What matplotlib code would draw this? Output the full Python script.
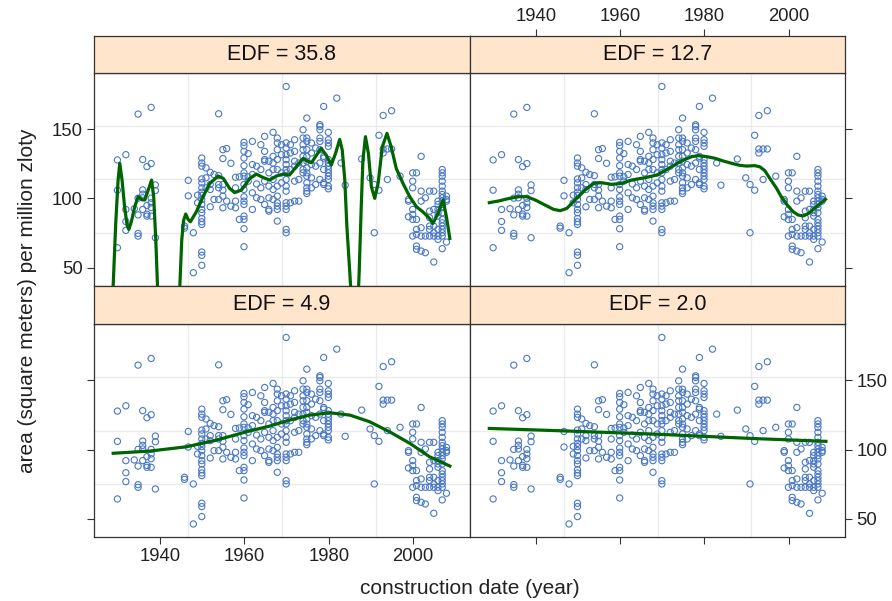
import numpy as np
import matplotlib
matplotlib.use("Agg")
import matplotlib.pyplot as plt

plt.rcParams['font.family'] = ['Liberation Sans', 'DejaVu Sans']

# scatter data: construction year and the areas observed in that year
year_cols = [1929.9, 1931.9, 1933.9, 1934.8, 1935.9, 1936.9, 1937.9, 1938.9,
             1945.8, 1946.7, 1947.9, 1948.9, 1949.9, 1950.9, 1951.9, 1952.8,
             1953.9, 1954.9, 1955.8, 1956.8, 1957.9, 1958.8, 1959.9, 1960.9,
             1961.9, 1962.9, 1963.9, 1964.8, 1965.8, 1966.8, 1967.8, 1968.8,
             1969.9, 1970.9, 1971.9, 1972.9, 1973.9, 1974.8, 1975.9, 1976.9,
             1977.9, 1978.8, 1979.9, 1981.9, 1982.9, 1983.9, 1987.8, 1989.8,
             1990.8, 1991.9, 1992.9, 1993.9, 1994.9, 1996.9, 1998.9, 1999.9,
             2000.8, 2001.9, 2002.9, 2003.9, 2004.9, 2005.9, 2006.9, 2007.9]
area_cols = [
    [127.7, 105.9, 64.4],
    [131.5, 92.0, 83.3, 76.9],
    [92.5],
    [160.8, 100.1, 88.1, 74.7, 72.8],
    [128.0, 106.1, 103.0, 100.4, 92.0],
    [122.9, 94.9, 88.6, 87.2],
    [165.6, 125.1, 100.1, 96.8, 93.4, 87.2],
    [109.7, 105.6, 71.6],
    [80.0, 78.5],
    [113.0, 101.8],
    [75.2, 46.4],
    [102.3, 96.8],
    [129.1, 125.5, 123.2, 114.0, 111.2, 107.6, 104.4, 102.1, 99.2, 95.6, 92.0,
     89.6, 85.5, 83.1, 81.2, 61.3, 58.9, 51.7],
    [122.0, 114.8, 107.6],
    [118.8, 110.0, 106.4, 93.9],
    [117.2, 99.2],
    [161.0, 116.4, 110.0, 107.6, 99.2],
    [135.1, 128.7, 110.0, 105.9, 101.6, 93.2],
    [135.9, 98.0],
    [125.3, 94.4],
    [115.2, 107.6, 98.0, 93.2],
    [115.5, 84.8],
    [140.4, 138.0, 133.9, 129.1, 123.6, 118.4, 116.0, 110.0, 106.4, 101.1, 98.0,
     95.6, 87.2, 84.8, 78.1, 65.1],
    [132.3, 115.5, 112.4],
    [141.1, 124.4, 117.2, 104.0, 92.0],
    [123.2, 110.4, 100.4],
    [138.7, 120.8, 107.6, 99.2],
    [144.7, 133.9, 128.0, 126.8, 112.4, 95.6],
    [126.8, 118.4, 108.8, 100.4, 92.0, 90.8],
    [147.6, 130.3, 125.5, 120.8, 113.6, 106.4, 99.2],
    [143.5, 140.0, 135.1, 128.0, 120.8, 108.8, 101.6, 96.8, 94.4, 92.0, 83.6],
    [138.7, 131.5, 118.4, 111.2],
    [180.7, 140.0, 136.3, 131.5, 127.9, 124.4, 120.8, 118.4, 113.6, 108.8, 105.2,
     96.8, 94.4, 92.0, 77.6, 75.2],
    [138.7, 132.7, 120.8, 96.8],
    [142.3, 133.9, 126.8, 123.2, 112.4, 98.0],
    [125.5, 113.6, 98.0],
    [149.5, 143.5, 138.7, 135.1, 130.3, 125.5, 120.8, 118.4],
    [157.9, 143.5, 141.1, 135.1, 130.3, 126.8, 121.9, 118.4, 116.0, 111.2, 107.6,
     105.2, 103.5],
    [139.9, 132.7, 124.4, 114.8, 107.6],
    [136.3, 123.2, 110.0],
    [153.1, 151.9, 149.5, 143.5, 141.1, 135.1, 125.5, 113.6],
    [166.3, 130.3, 129.1, 120.8, 111.2, 110.0],
    [147.6, 142.3, 139.9, 137.5, 128.0, 125.5, 123.2, 120.8, 118.4, 116.0, 113.6,
     108.8, 106.9],
    [172.3],
    [125.5],
    [109.5],
    [128.4],
    [114.8],
    [110.0, 75.2],
    [145.5, 105.9],
    [159.8, 135.6, 132.7],
    [135.6, 113.6],
    [163.2, 135.6],
    [116.0],
    [99.2, 98.0, 86.7],
    [118.4, 112.4, 107.6, 92.0, 88.4, 84.8, 72.8],
    [118.4, 84.8, 77.6, 74.0, 65.6, 63.2],
    [130.3, 105.2, 98.0, 78.8, 72.8, 62.0],
    [100.4, 72.8, 60.8],
    [105.2, 90.8, 86.0, 80.0, 77.6, 72.8],
    [105.2, 92.0, 80.0, 75.2, 72.8, 54.1],
    [98.0, 95.6, 92.0, 89.6, 87.2, 77.6, 72.8, 70.4],
    [120.8, 118.4, 116.0, 112.4, 108.8, 105.2, 102.8, 100.4, 98.0, 95.6, 93.2,
     89.6, 84.8, 82.4, 80.0, 77.6, 75.2, 72.8, 63.7],
    [101.6, 99.2, 98.0, 68.5],
]

# smoothing spline fits
edf_labels = ["EDF = 35.8", "EDF = 12.7", "EDF = 4.9", "EDF = 2.0"]
fit358_x = [1928.8, 1929.5, 1930.06, 1930.46, 1931.0, 1931.6, 1932.2, 1932.6, 1933.2,
            1934.0, 1934.8, 1935.6, 1936.4, 1937.2, 1938.0, 1938.5, 1939.0, 1939.4,
            1939.8, 1942.0, 1944.3, 1944.7, 1945.15, 1945.6, 1946.1, 1946.65, 1947.2,
            1948.6, 1950.2, 1951.8, 1953.8, 1955.0, 1956.5, 1957.7, 1959.3, 1961.3,
            1962.8, 1964.4, 1966.0, 1967.6, 1969.2, 1970.7, 1972.3, 1973.9, 1974.8,
            1975.9, 1977.1, 1978.2, 1979.4, 1980.6, 1981.6, 1982.6, 1983.2, 1983.8,
            1984.3, 1985.0, 1985.5, 1986.2, 1986.8, 1987.2, 1987.7, 1988.1, 1988.7,
            1989.4, 1990.1, 1990.9, 1991.7, 1992.7, 1993.8, 1994.8, 1996.0, 1997.6,
            1999.2, 2000.8, 2002.3, 2003.9, 2004.7, 2005.9, 2007.1, 2007.9, 2008.7]
fit358_y = [30, 81.9, 113.2, 125.2, 113.2, 93.9, 80.7, 77.6, 83.1,
            93.9, 101.2, 99.2, 98.8, 106.0, 113.2, 101.2, 69.9, 37,
            5, -120, 5, 37, 69.9, 84.3, 88.7, 84.8, 83.1,
            90.3, 101.2, 110.8, 116.1, 114.4, 107.2, 104.1, 106.0, 114.4,
            117.5, 115.1, 113.2, 116.1, 117.5, 116.8, 122.8, 128.8, 127.1,
            125.7, 131.2, 136.0, 131.2, 124.0, 132.4, 142.5, 134.8, 113.2,
            79.5, 45.8, 20, -20, 15, 45.8, 94.0, 127.6, 144.5,
            132.4, 108.4, 100.0, 110.8, 137.2, 146.9, 137.2, 121.6, 110.8,
            101.2, 93.9, 90.3, 85.5, 81.9, 89.1, 98.8, 86.7, 71.1]
fit127_x = [1929.0, 1931.2, 1933.5, 1935.9, 1937.9, 1939.9, 1942.2, 1944.2, 1945.8,
            1947.4, 1949.3, 1951.7, 1953.7, 1955.6, 1958.0, 1960.4, 1962.7, 1965.9,
            1968.7, 1970.2, 1972.2, 1973.8, 1975.4, 1977.0, 1978.5, 1980.5, 1982.5,
            1984.4, 1986.4, 1988.4, 1990.0, 1991.9, 1993.1, 1994.3, 1995.5, 1997.1,
            1998.2, 1999.8, 2001.0, 2002.2, 2003.4, 2004.7, 2006.1, 2007.5, 2008.7]
fit127_y = [96.9, 98.1, 99.8, 101.2, 101.2, 98.8, 95.2, 92.1, 91.1,
            92.8, 98.8, 106.0, 110.8, 111.3, 110.1, 110.8, 113.2, 114.9,
            116.8, 119.2, 122.8, 125.7, 128.1, 130.1, 130.8, 130.1, 128.9,
            127.0, 125.3, 123.8, 123.3, 123.6, 122.8, 120.0, 114.4, 107.2,
            101.2, 94.5, 90.4, 88.0, 87.3, 89.2, 92.8, 96.4, 99.3]
fit49_x = [1928.9, 1937.6, 1946.3, 1953.4, 1960.5, 1966.0, 1970.7, 1975.5, 1980.2,
           1985.0, 1989.7, 1994.4, 1999.2, 2003.9, 2008.7]
fit49_y = [97.3, 98.9, 102.0, 106.8, 112.8, 116.9, 121.2, 124.8, 126.5,
           124.8, 120.0, 112.8, 104.5, 94.8, 88.1]
fit20_x = [1929.0, 1947.0, 1969.0, 1991.0, 2008.8]
fit20_y = [115.2, 113.4, 111.0, 108.0, 105.9]

x_ticks = [1940, 1960, 1980, 2000]
y_ticks = [50, 100, 150]

pt_year = np.concatenate([[y] * len(a) for y, a in zip(year_cols, area_cols)])
pt_area = np.concatenate(area_cols)

fits = [(fit358_x, fit358_y), (fit127_x, fit127_y), (fit49_x, fit49_y), (fit20_x, fit20_y)]

W, H = 892, 601
fig = plt.figure(figsize=(W / 100, H / 100), dpi=100)

xlim = (1924.35, 2013.4)
ylim = (37.0, 190.2)
col_left = [94 / W, 469.7 / W]
col_w = 375.65 / W
panel_rows = [(285.7, 73.3), (537.0, 324.3)]   # (bottom px, top px)
strip_rows = [(73.3, 35.7), (324.3, 285.7)]

edge = '#333333'
pt_col = '#4a78c6'
line_col = '#006400'
strip_col = '#ffe5cc'

for i in range(4):
    r, c = divmod(i, 2)
    pb, pt = panel_rows[r]
    ax = fig.add_axes([col_left[c], 1 - pb / H, col_w, (pb - pt) / H])
    ax.set_xlim(*xlim)
    ax.set_ylim(*ylim)
    # lattice-like grid at quarter positions
    for k in (1, 2, 3):
        ax.axvline(xlim[0] + k * (xlim[1] - xlim[0]) / 4, color='#ebebeb', lw=1, zorder=0)
        ax.axhline(ylim[0] + k * (ylim[1] - ylim[0]) / 4, color='#ebebeb', lw=1, zorder=0)
    ax.scatter(pt_year, pt_area, s=20, facecolors='none', edgecolors=pt_col,
               linewidths=0.8, zorder=2)
    fx, fy = fits[i]
    ax.plot(fx, fy, color=line_col, lw=2.3, zorder=3, solid_joinstyle='round')
    for sp in ax.spines.values():
        sp.set_color(edge)
        sp.set_linewidth(0.9)
    ax.set_xticks(x_ticks)
    ax.set_yticks(y_ticks)
    ax.tick_params(direction='out', length=5, width=0.8, color=edge,
                   labelsize=13.3, labelcolor='#222222', pad=3)
    # tick/label placement following lattice's alternating scheme
    ax.tick_params(axis='x', top=False, bottom=(r == 1), labelbottom=(r == 1 and c == 0))
    ax.tick_params(axis='y', left=(c == 0), labelleft=(c == 0 and r == 0),
                   right=(c == 1), labelright=(c == 1 and r == 1))

    sb, st = strip_rows[r]
    sax = fig.add_axes([col_left[c], 1 - sb / H, col_w, (sb - st) / H])
    sax.set_facecolor(strip_col)
    sax.set_xlim(*xlim)
    sax.set_yticks([])
    for sp in sax.spines.values():
        sp.set_color(edge)
        sp.set_linewidth(0.9)
    if r == 0 and c == 1:
        sax.set_xticks(x_ticks)
        sax.tick_params(axis='x', direction='out', length=5, width=0.8, color=edge,
                        labelsize=13.3, labelcolor='#222222', pad=3,
                        top=True, labeltop=True, bottom=False, labelbottom=False)
    else:
        sax.set_xticks([])
    sax.text(0.5, 0.5, edf_labels[i], transform=sax.transAxes, ha='center',
             va='center', fontsize=15.5, color='#111111')

fig.text(469.7 / W, 1 - 588 / H, "construction date (year)", ha='center', va='center',
         fontsize=15, color='#222222')
fig.text(28 / W, 0.5, "area (square meters) per million zloty", ha='center',
         va='center', rotation=90, fontsize=15, color='#222222')

fig.savefig("out.png", dpi=100)
